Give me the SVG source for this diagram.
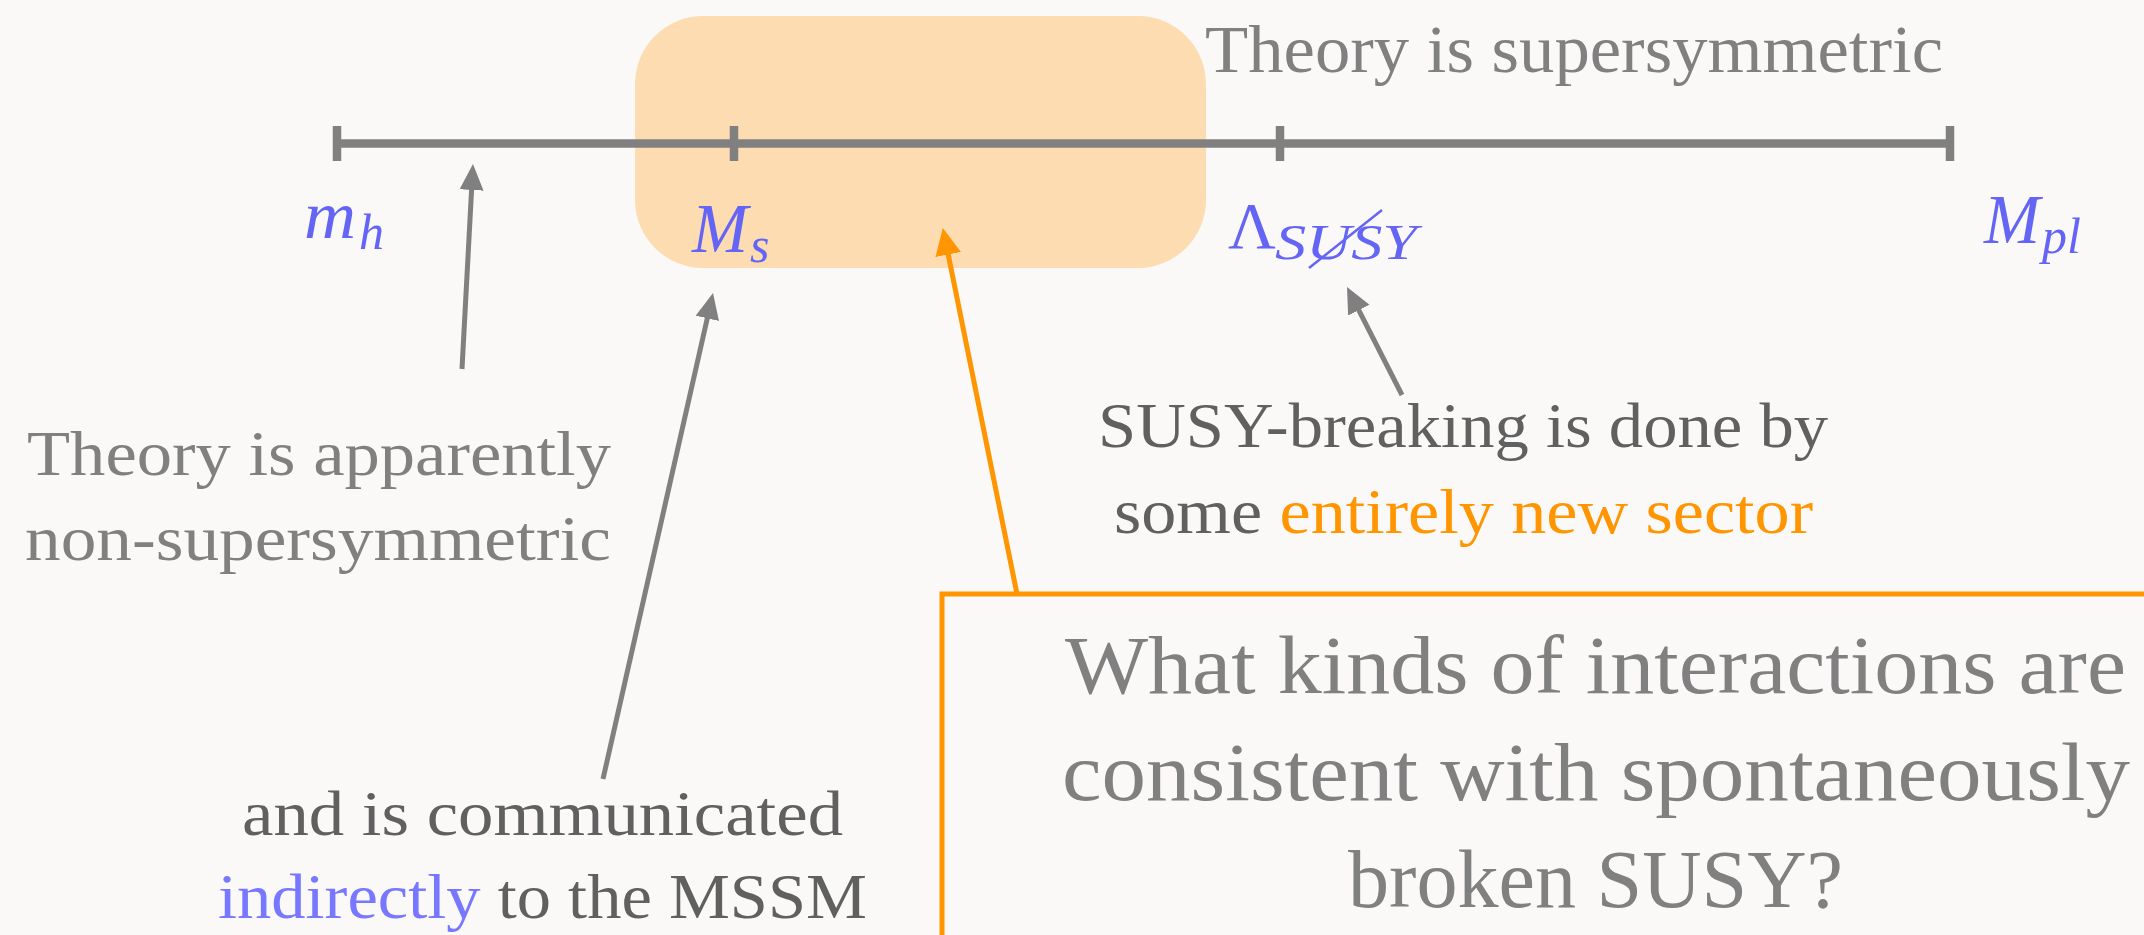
<svg xmlns="http://www.w3.org/2000/svg" width="2144" height="935" viewBox="0 0 2144 935">
<defs>
<style>
.t{font-family:"Liberation Serif","Times New Roman",serif;}
.g{fill:#808080;}
.d{fill:#606060;}
.o{fill:#ff9500;}
.b{fill:#7777ff;}
.m{font-family:"Liberation Serif","Times New Roman",serif;font-style:italic;fill:#6565f5;}
.up{font-family:"Liberation Serif","Times New Roman",serif;font-style:normal;fill:#6565f5;}
.axis{stroke:#808080;stroke-width:8.5;fill:none;}
.arr{stroke:#808080;stroke-width:5;fill:none;}
.arrO{stroke:#ff9500;stroke-width:5;fill:none;}
</style>
<marker id="ahG" markerUnits="userSpaceOnUse" markerWidth="28" markerHeight="26" refX="6" refY="12" orient="auto">
<path d="M0,0 L26,12 L0,24 Z" fill="#808080"/>
</marker>
<marker id="ahO" markerUnits="userSpaceOnUse" markerWidth="28" markerHeight="28" refX="6" refY="13" orient="auto">
<path d="M0,0 L27,13 L0,26 Z" fill="#ff9500"/>
</marker>
</defs>
<rect x="0" y="0" width="2144" height="935" fill="#faf9f8"/>

<g id="highlight">
<rect x="635" y="16" width="571" height="252" rx="68" ry="68" fill="#fcdcb0"/>
</g>

<g id="axis">
<line class="axis" x1="337" y1="143.5" x2="1950" y2="143.5"/>
<line class="axis" x1="337" y1="126" x2="337" y2="161"/>
<line class="axis" x1="734" y1="126" x2="734" y2="161"/>
<line class="axis" x1="1280" y1="126" x2="1280" y2="161"/>
<line class="axis" x1="1950" y1="126" x2="1950" y2="161"/>
</g>

<g id="label-mh">
<text class="m" x="304" y="238" font-size="68" textLength="52" lengthAdjust="spacingAndGlyphs">m</text>
<text class="m" x="359" y="249" font-size="50">h</text>
</g>
<g id="label-Ms">
<text class="m" x="692" y="252" font-size="70" textLength="56" lengthAdjust="spacingAndGlyphs">M</text>
<text class="m" x="750" y="262" font-size="50">s</text>
</g>
<g id="label-Lambda">
<text class="up" x="1228" y="248" font-size="66">Λ</text>
<text class="m" x="1275" y="259" font-size="50" textLength="142" lengthAdjust="spacingAndGlyphs">SUSY</text>
<line x1="1309" y1="268" x2="1382" y2="210" stroke="#6565f5" stroke-width="2.5"/>
</g>
<g id="label-Mpl">
<text class="m" x="1984" y="243" font-size="70" textLength="56" lengthAdjust="spacingAndGlyphs">M</text>
<text class="m" x="2042" y="253" font-size="50">pl</text>
</g>

<g id="label-supersymmetric">
<text class="t g" x="1205" y="72" font-size="67" textLength="738" lengthAdjust="spacingAndGlyphs">Theory is supersymmetric</text>
</g>

<g id="label-apparent">
<text class="t g" x="319" y="475" font-size="64" text-anchor="middle" textLength="584" lengthAdjust="spacingAndGlyphs">Theory is apparently</text>
<text class="t g" x="318" y="560" font-size="64" text-anchor="middle" textLength="586" lengthAdjust="spacingAndGlyphs">non-supersymmetric</text>
</g>

<g id="label-breaking">
<text class="t d" x="1463" y="447" font-size="64" text-anchor="middle" textLength="730" lengthAdjust="spacingAndGlyphs">SUSY-breaking is done by</text>
<text class="t d" x="1463.5" y="533" font-size="64" text-anchor="middle" textLength="699" lengthAdjust="spacingAndGlyphs">some <tspan class="o">entirely new sector</tspan></text>
</g>

<g id="label-communicated">
<text class="t d" x="542.5" y="835" font-size="64" text-anchor="middle" textLength="601" lengthAdjust="spacingAndGlyphs">and is communicated</text>
<text class="t d" x="542.5" y="918" font-size="64" text-anchor="middle" textLength="649" lengthAdjust="spacingAndGlyphs"><tspan class="b">indirectly</tspan> to the MSSM</text>
</g>

<g id="connectors">
<line class="arr" x1="462" y1="369" x2="471.9" y2="184" marker-end="url(#ahG)"/>
<line class="arr" x1="603" y1="779" x2="708.6" y2="312.5" marker-end="url(#ahG)"/>
<line class="arr" x1="1402" y1="395" x2="1356.1" y2="304.8" marker-end="url(#ahG)"/>
<line class="arrO" x1="1017" y1="594" x2="947" y2="248.6" marker-end="url(#ahO)"/>
</g>

<g id="question-box">
<rect x="942" y="594" width="1300" height="400" fill="#faf9f8" stroke="#ff9500" stroke-width="5"/>
<text class="t g" x="1595.5" y="693" font-size="82" text-anchor="middle" textLength="1061" lengthAdjust="spacingAndGlyphs">What kinds of interactions are</text>
<text class="t g" x="1596" y="800" font-size="82" text-anchor="middle" textLength="1068" lengthAdjust="spacingAndGlyphs">consistent with spontaneously</text>
<text class="t g" x="1595.5" y="907" font-size="82" text-anchor="middle" textLength="495" lengthAdjust="spacingAndGlyphs">broken SUSY?</text>
</g>
</svg>
